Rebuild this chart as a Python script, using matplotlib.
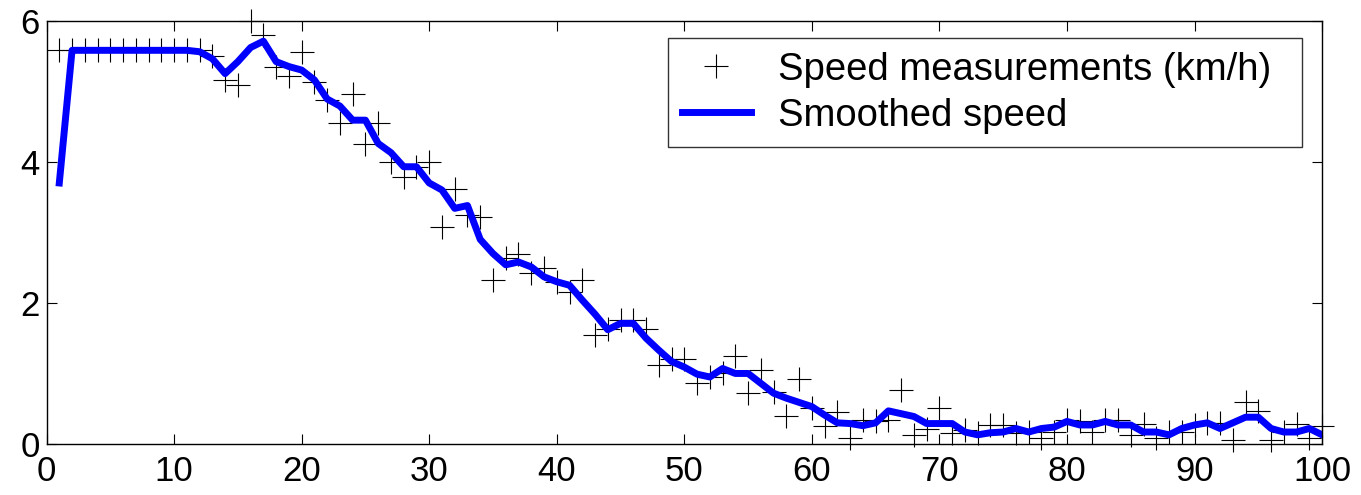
import matplotlib.pyplot as plt
import numpy as np

plt.rcParams['font.family'] = ['Liberation Sans', 'DejaVu Sans']

# sample index
x = np.arange(1, 101)

# raw speed measurements (km/h)
measured = [5.58, 5.58, 5.58, 5.58, 5.58, 5.58, 5.58, 5.58, 5.58, 5.58,
            5.58, 5.58, 5.50, 5.16, 5.09, 6.00, 5.80, 5.34, 5.22, 5.55,
            5.13, 4.88, 4.55, 4.96, 4.25, 4.55, 4.00, 3.79, 3.93, 4.00,
            3.08, 3.62, 3.25, 3.22, 2.33, 2.63, 2.70, 2.42, 2.50, 2.30,
            2.16, 2.33, 1.55, 1.63, 1.76, 1.76, 1.63, 1.12, 1.20, 1.21,
            0.87, 0.95, 1.00, 1.25, 0.72, 1.05, 0.74, 0.39, 0.92, 0.51,
            0.26, 0.46, 0.08, 0.34, 0.32, 0.34, 0.76, 0.13, 0.21, 0.51,
            0.16, 0.20, 0.15, 0.27, 0.27, 0.15, 0.17, 0.08, 0.17, 0.34,
            0.32, 0.17, 0.34, 0.34, 0.13, 0.29, 0.08, 0.17, 0.17, 0.27,
            0.30, 0.30, 0.05, 0.59, 0.47, 0.05, 0.17, 0.29, 0.08, 0.26]

# smoothed estimate
smoothed = [3.70, 5.58, 5.58, 5.58, 5.58, 5.58, 5.58, 5.58, 5.58, 5.58,
            5.58, 5.56, 5.46, 5.25, 5.42, 5.62, 5.71, 5.42, 5.35, 5.30,
            5.16, 4.89, 4.79, 4.59, 4.59, 4.26, 4.13, 3.93, 3.93, 3.70,
            3.60, 3.34, 3.38, 2.90, 2.70, 2.54, 2.58, 2.51, 2.37, 2.30,
            2.25, 2.04, 1.84, 1.62, 1.71, 1.71, 1.50, 1.33, 1.17, 1.09,
            0.99, 0.95, 1.07, 1.00, 1.00, 0.86, 0.72, 0.65, 0.59, 0.53,
            0.41, 0.30, 0.29, 0.26, 0.30, 0.47, 0.43, 0.39, 0.29, 0.29,
            0.29, 0.17, 0.13, 0.16, 0.17, 0.22, 0.17, 0.22, 0.24, 0.32,
            0.27, 0.27, 0.32, 0.27, 0.27, 0.17, 0.17, 0.13, 0.22, 0.27,
            0.30, 0.22, 0.30, 0.38, 0.38, 0.22, 0.17, 0.17, 0.22, 0.13]

fig = plt.figure(figsize=(13.61, 4.95), dpi=100)
ax = fig.add_axes([0.0342, 0.103, 0.9372, 0.8552])

ax.plot(x, measured, '+', color='black', markersize=17, markeredgewidth=0.8,
        label='Speed measurements (km/h)', clip_on=False)
ax.plot(x, smoothed, '-', color='#0000ff', linewidth=5,
        label='Smoothed speed')

ax.set_xlim(0, 100)
ax.set_ylim(0, 6)
ax.set_xticks(range(0, 101, 10))
ax.set_yticks([0, 2, 4, 6])
ax.tick_params(direction='in', length=7, width=0.8, top=True, right=True,
               labelsize=25)
ax.tick_params(axis='x', pad=8)
ax.tick_params(axis='y', pad=5)
for s in ax.spines.values():
    s.set_linewidth(1)

leg = ax.legend(loc='upper left', bbox_to_anchor=(0.4873, 0.959, 0.4971, 0.0),
                mode='expand', fontsize=27.5,
                frameon=True, fancybox=False, edgecolor='black',
                handlelength=1.8, borderpad=0.36, labelspacing=0.26,
                handletextpad=0.72, borderaxespad=0)
leg.get_frame().set_linewidth(1)

fig.savefig('out.png', dpi=100)
